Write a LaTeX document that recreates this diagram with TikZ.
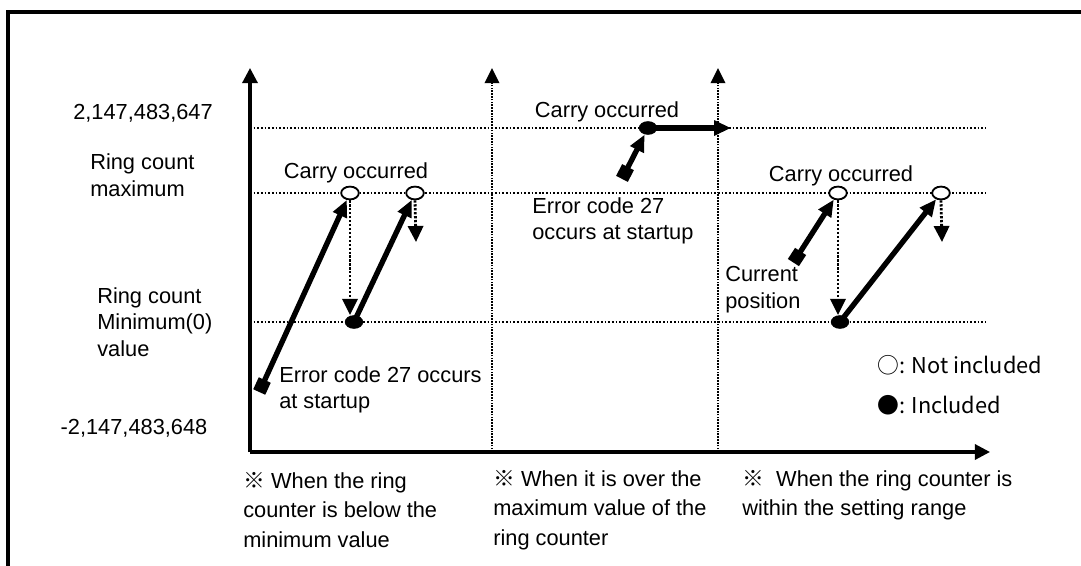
\documentclass[tikz,border=0pt]{standalone}
\usepackage{fontspec}
\setmainfont{Liberation Sans}
\newfontfamily\cjk{Noto Sans CJK KR}
\usetikzlibrary{arrows.meta,positioning,shapes.geometric}

\begin{document}
\begin{tikzpicture}[x=0.025cm,y=-0.025cm,
  every node/.style={font=\fontsize{15.5}{19}\selectfont,inner sep=0pt},
  lbl/.style={align=left,anchor=west},
  axisarr/.style={line width=2.2pt,-{Triangle[length=0.38cm,width=0.38cm]}},
  sectline/.style={line width=1.6pt,dash pattern=on 1.2pt off 0.8pt,-{Triangle[length=0.38cm,width=0.36cm]}},
  limitline/.style={line width=1.2pt,dash pattern=on 1.2pt off 1.4pt},
  runarr/.style={line width=3.8pt,-{Triangle[length=0.42cm,width=0.36cm]}},
  droparr/.style={line width=2pt,dash pattern=on 1.6pt off 1.2pt,-{Triangle[length=0.4cm,width=0.38cm]}},
  opendot/.style={ellipse,draw,line width=1.3pt,fill=white,minimum width=0.44cm,minimum height=0.32cm},
  fulldot/.style={ellipse,fill,minimum width=0.46cm,minimum height=0.34cm},
  startsq/.style={rectangle,fill,minimum size=0.33cm}]
  \useasboundingbox (0,0) rectangle (1081,566);
  \clip (0,0) rectangle (1081,566);
  \draw[line width=3pt] (8,620) -- (8,12) -- (1120,12); % frame

  \draw[limitline] (250,128) -- (985,128); % 2,147,483,647
  \draw[limitline] (250,193) -- (985,193); % ring maximum
  \draw[limitline] (250,322) -- (985,322); % ring minimum

  \coordinate (O) at (250,452);
  \draw[axisarr] (O) -- (250,68); % value axis
  \draw[axisarr] (O) -- (990,452); % time axis
  \draw[sectline] (492,452) -- (492,68); % first border
  \draw[sectline] (718,452) -- (718,68); % second border

  \node (ymax) at (143,113) {2,147,483,647};
  \node[lbl] (rmax) at (90,175) {Ring count\\maximum};
  \node[lbl] (rmin) at (97,322) {Ring count\\Minimum(0)\\value};
  \node (ymin) at (134,428) {-2,147,483,648};

  % below the minimum
  \node (carryA) at (356,173) {Carry occurred};
  \node[startsq,rotate=65.5] (sqA) at (262,386) {};
  \node[opendot] (openA1) at (350,193) {};
  \node[fulldot] (dotA) at (354,322) {};
  \node[opendot] (openA2) at (415,193) {};
  \coordinate (endA) at (416,242);
  \draw[runarr] (sqA.center) -- (openA1);
  \draw[droparr] (openA1.south) -- (openA1.south |- dotA.north);
  \draw[runarr] (dotA.center) -- (openA2);
  \draw[droparr] (openA2.south) -- (endA);
  \node[lbl] (errA) at (279,390) {Error code 27 occurs\\at startup};

  % over the maximum
  \node (carryB) at (607,112) {Carry occurred};
  \node[startsq,rotate=63] (sqB) at (625,173) {};
  \node[fulldot] (dotB) at (648,128) {};
  \coordinate (endB) at (731,128);
  \draw[runarr] (sqB.center) -- (dotB);
  \draw[runarr] (dotB.center) -- (endB);
  \node[lbl] (errB) at (532,221) {Error code 27\\occurs at startup};

  % within the range
  \node (carryC) at (841,176) {Carry occurred};
  \node[startsq,rotate=57] (sqC) at (797,257) {};
  \node[opendot] (openC1) at (838,193) {};
  \node[fulldot] (dotC) at (840,322) {};
  \node[opendot] (openC2) at (941,193) {};
  \coordinate (endC) at (942,242);
  \draw[runarr] (sqC.center) -- (openC1);
  \draw[droparr] (openC1.south) -- (openC1.south |- dotC.north);
  \draw[runarr] (dotC.center) -- (openC2);
  \draw[droparr] (openC2.south) -- (endC);
  \node[lbl] (curC) at (725,290) {Current\\position};

  \node[lbl,font=\cjk\fontsize{15.5}{19}\selectfont] (legOpen) at (877,365) {○: Not included};
  \node[lbl,font=\cjk\fontsize{15.5}{19}\selectfont] (legFull) at (877,405) {●: Included};

  \node[lbl,font=\fontsize{15.5}{21}\selectfont] (noteA) at (243,510) {{\cjk ※} When the ring\\counter is below the\\minimum value};
  \node[lbl,font=\fontsize{15.5}{21}\selectfont] (noteB) at (493,510) {{\cjk ※} When it is over the\\maximum value of the\\ring counter};
  \node[lbl,font=\fontsize{15.5}{21}\selectfont] (noteC) at (742,495) {{\cjk ※}\ \ When the ring counter is\\within the setting range};
\end{tikzpicture}
\end{document}
